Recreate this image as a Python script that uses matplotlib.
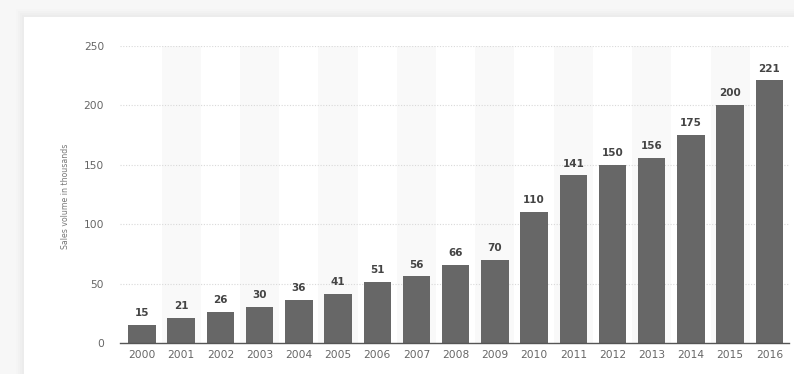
import matplotlib
matplotlib.use("Agg")
import matplotlib.pyplot as plt
from matplotlib.patches import Rectangle

years = ["2000", "2001", "2002", "2003", "2004", "2005", "2006", "2007", "2008",
         "2009", "2010", "2011", "2012", "2013", "2014", "2015", "2016"]
sales = [15, 21, 26, 30, 36, 41, 51, 56, 66, 70, 110, 141, 150, 156, 175, 200, 221]
y_ticks = [0, 50, 100, 150, 200, 250]
y_label = "Sales volume in thousands"

plt.rcParams['font.family'] = ['DejaVu Sans']

fig = plt.figure(figsize=(7.94, 3.74), dpi=100)
fig.patch.set_facecolor('#f7f7f7')

# white card with soft shadow
W, H = 794, 374
for i in range(4):
    d = 8 - 2 * i
    fig.patches.append(Rectangle(((24 - d) / W, 0), (W - 24 + d) / W, (H - 17 + d) / H,
                                 transform=fig.transFigure, facecolor='#e4e4e4',
                                 alpha=0.10 + 0.05 * i, edgecolor='none', zorder=-2))
fig.patches.append(Rectangle((24 / W, 0), (W - 24) / W, (H - 17) / H,
                             transform=fig.transFigure, facecolor='white',
                             edgecolor='none', zorder=-1))

ax = fig.add_axes([120 / W, 1 - 343 / H, (789 - 120) / W, (343 - 46) / H])
ax.set_zorder(2)
ax.set_facecolor('none')

x = list(range(len(years)))
# alternating bands
for i in x:
    if i % 2 == 1:
        ax.axvspan(i - 0.5, i + 0.5, color='#f9f9f9', zorder=0, lw=0)

for t in y_ticks[1:]:
    ax.axhline(t, color='#d9d9d9', lw=0.8, ls=(0, (1, 1.5)), zorder=1)

bars = ax.bar(x, sales, width=0.7, color='#676767', zorder=2)
for xi, v in zip(x, sales):
    ax.annotate(str(v), (xi, v), xytext=(0, 5), textcoords='offset points',
                ha='center', va='bottom', fontsize=7.5, fontweight='bold', color='#444444')

ax.set_xlim(-0.56, len(years) - 0.5)
ax.set_ylim(0, 250)
ax.set_yticks(y_ticks)
ax.set_yticklabels([str(t) for t in y_ticks])
ax.set_xticks(x)
ax.set_xticklabels(years)
ax.tick_params(axis='y', length=0, pad=11.5, labelsize=7.7, labelcolor='#666666')
ax.tick_params(axis='x', length=0, pad=5, labelsize=7.7, labelcolor='#666666')
for s in ['top', 'right', 'left']:
    ax.spines[s].set_visible(False)
ax.spines['bottom'].set_color('#555555')
ax.spines['bottom'].set_linewidth(1.0)
ax.spines['bottom'].set_zorder(3)

fig.text(66 / W, 1 - 196 / H, y_label, rotation=90, ha='center', va='center',
         fontsize=5.6, color='#777777')

fig.savefig('out.png', dpi=100, facecolor=fig.get_facecolor())
